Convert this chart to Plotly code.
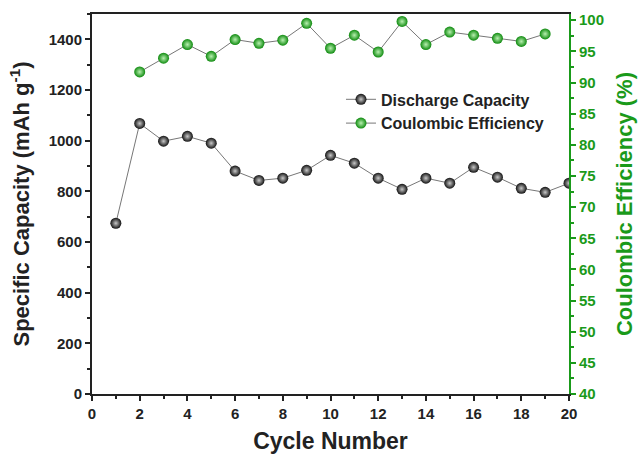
import plotly.graph_objects as go

cycles = list(range(1, 21))
discharge = [674, 1068, 998, 1017, 990, 880, 843, 852, 883, 942, 911, 852, 808, 852, 832, 895, 856, 812, 796, 832]
ce_cycles = list(range(2, 20))
ce = [91.7, 93.9, 96.1, 94.2, 96.9, 96.3, 96.8, 99.5, 95.5, 97.6, 94.9, 99.8, 96.1, 98.1, 97.6, 97.1, 96.6, 97.8]

green = "#1a9a1a"
font_family = "Liberation Sans, Arial, sans-serif"

fig = go.Figure()
fig.add_trace(go.Scatter(
    x=cycles, y=discharge, name="Discharge Capacity", mode="lines+markers",
    line=dict(color="#777777", width=1),
    marker=dict(size=11, color="#111111", gradient=dict(type="radial", color="#c8c8c8"),
                line=dict(width=0)),
))
fig.add_trace(go.Scatter(
    x=ce_cycles, y=ce, name="Coulombic Efficiency", mode="lines+markers", yaxis="y2",
    line=dict(color="#777777", width=1),
    marker=dict(size=11, color="#0e8a0e", gradient=dict(type="radial", color="#b8f0b0"),
                line=dict(width=0)),
))

tickfont = dict(family=font_family, size=15, color="#222222", weight="bold")
fig.update_layout(
    width=639, height=454,
    margin=dict(l=92, r=70, t=14, b=60),
    paper_bgcolor="white", plot_bgcolor="white",
    font=dict(family=font_family),
    showlegend=True,
    legend=dict(x=0.522, y=0.82, xanchor="left", yanchor="top", bgcolor="rgba(0,0,0,0)",
                font=dict(family=font_family, size=16, color="#222222", weight="bold"),
                tracegroupgap=0, itemwidth=30),
    xaxis=dict(range=[0, 20], tickvals=list(range(0, 21, 2)), showgrid=False, zeroline=False,
               automargin=False,
               showline=True, linecolor="#222222", linewidth=2, mirror=True,
               ticks="outside", ticklen=5, tickwidth=2, tickcolor="#222222",
               minor=dict(dtick=1, ticks="outside", ticklen=3, tickwidth=1.5, tickcolor="#222222"),
               tickfont=tickfont,
               title=dict(text="Cycle Number", standoff=14,
                          font=dict(family=font_family, size=23, color="#222222", weight="bold"))),
    yaxis=dict(range=[0, 1500], tickvals=list(range(0, 1401, 200)), showgrid=False, zeroline=False,
               automargin=False,
               showline=True, linecolor="#222222", linewidth=2,
               ticks="outside", ticklen=5, tickwidth=2, tickcolor="#222222",
               minor=dict(dtick=100, ticks="outside", ticklen=3, tickwidth=1.5, tickcolor="#222222"),
               tickfont=tickfont,
               title=dict(text="Specific Capacity (mAh g<sup>-1</sup>)", standoff=13,
                          font=dict(family=font_family, size=22, color="#222222", weight="bold"))),
    yaxis2=dict(range=[40, 101], tickvals=list(range(40, 101, 5)), overlaying="y", side="right",
                showgrid=False, zeroline=False, automargin=False,
                showline=True, linecolor=green, linewidth=2,
                ticks="outside", ticklen=5, tickwidth=2, tickcolor=green,
                minor=dict(dtick=2.5, ticks="outside", ticklen=3, tickwidth=1.5, tickcolor=green),
                tickfont=dict(family=font_family, size=15, color=green, weight="bold"),
                title=dict(text="Coulombic Efficiency (%)", standoff=14,
                           font=dict(family=font_family, size=22, color=green, weight="bold"))),
)

fig.write_html("out.html")
